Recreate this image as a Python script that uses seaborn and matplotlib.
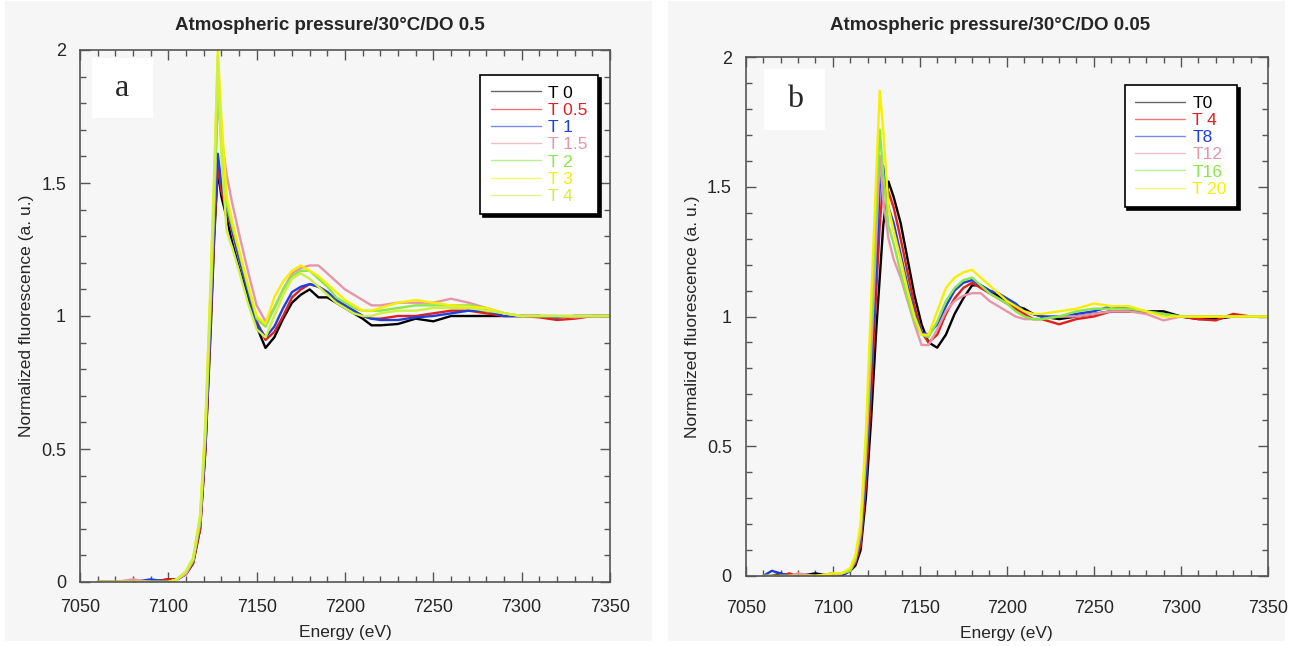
import pandas as pd
import matplotlib.pyplot as plt
import matplotlib.patches as mpatches
from matplotlib.ticker import MultipleLocator, FuncFormatter
import seaborn as sns

# panel a : DO 0.5
energy_a = [7060, 7070, 7080, 7090, 7100, 7105, 7110, 7114, 7118, 7121, 7124, 7126, 7128,
            7130, 7133, 7136, 7140, 7145, 7150, 7155, 7160, 7165, 7170, 7175, 7180, 7185,
            7190, 7195, 7200, 7205, 7210, 7215, 7220, 7230, 7240, 7250, 7260, 7270, 7280,
            7290, 7300, 7310, 7320, 7330, 7340, 7350]
labels_a = ['T 0', 'T 0.5', 'T 1', 'T 1.5', 'T 2', 'T 3', 'T 4']
colors_a = ['#000000', '#e0201c', '#1f3fe0', '#e596a8', '#88e84a', '#f6f000', '#d0f040']
t0_a = [0.00, 0.00, 0.00, 0.00, 0.01, 0.01, 0.03, 0.07, 0.20, 0.50, 0.95, 1.30, 1.55,
        1.45, 1.37, 1.28, 1.18, 1.07, 0.96, 0.88, 0.92, 0.99, 1.05, 1.08, 1.10, 1.07,
        1.07, 1.05, 1.03, 1.01, 0.99, 0.965, 0.965, 0.97, 0.99, 0.98, 1.00, 1.00, 1.00,
        1.00, 1.00, 1.00, 0.995, 1.00, 1.00, 1.00]
t05_a = [0.00, 0.00, 0.00, 0.00, 0.01, 0.01, 0.03, 0.07, 0.20, 0.50, 0.98, 1.32, 1.57,
         1.47, 1.40, 1.32, 1.22, 1.10, 0.98, 0.91, 0.94, 1.00, 1.07, 1.10, 1.12, 1.11,
         1.09, 1.06, 1.04, 1.02, 1.00, 0.99, 0.99, 1.00, 1.00, 1.01, 1.02, 1.02, 1.01,
         1.00, 1.00, 0.995, 0.985, 0.99, 1.00, 1.00]
t1_a = [0.00, 0.00, 0.00, 0.01, 0.00, 0.01, 0.03, 0.08, 0.22, 0.52, 1.00, 1.35, 1.61,
        1.50, 1.41, 1.33, 1.22, 1.09, 0.97, 0.92, 0.96, 1.03, 1.09, 1.11, 1.12, 1.11,
        1.09, 1.06, 1.04, 1.02, 1.00, 0.99, 0.985, 0.985, 0.995, 1.00, 1.01, 1.02, 1.02,
        1.00, 1.00, 1.00, 0.995, 1.00, 1.00, 1.00]
t15_a = [0.00, 0.00, 0.01, 0.00, 0.00, 0.01, 0.03, 0.08, 0.22, 0.55, 1.05, 1.42, 1.82,
         1.68, 1.53, 1.43, 1.31, 1.17, 1.04, 0.98, 1.03, 1.10, 1.16, 1.18, 1.19, 1.19,
         1.16, 1.13, 1.10, 1.08, 1.06, 1.04, 1.04, 1.05, 1.05, 1.05, 1.065, 1.05, 1.03,
         1.01, 1.00, 1.00, 1.00, 0.995, 1.00, 1.00]
t2_a = [0.00, 0.00, 0.00, 0.00, 0.00, 0.01, 0.04, 0.08, 0.23, 0.56, 1.08, 1.45, 1.85,
        1.65, 1.42, 1.34, 1.24, 1.11, 0.99, 0.96, 1.03, 1.10, 1.15, 1.17, 1.17, 1.14,
        1.11, 1.07, 1.05, 1.03, 1.02, 1.02, 1.02, 1.03, 1.04, 1.04, 1.04, 1.04, 1.03,
        1.01, 1.00, 1.00, 1.00, 1.00, 1.00, 1.00]
t3_a = [0.00, 0.00, 0.00, 0.00, 0.00, 0.01, 0.04, 0.09, 0.25, 0.60, 1.15, 1.55, 2.00,
        1.75, 1.45, 1.36, 1.25, 1.12, 1.00, 0.97, 1.07, 1.13, 1.17, 1.19, 1.17, 1.15,
        1.12, 1.09, 1.06, 1.04, 1.02, 1.02, 1.03, 1.05, 1.06, 1.05, 1.04, 1.035, 1.03,
        1.01, 1.00, 1.00, 1.00, 1.00, 1.00, 1.00]
t4_a = [0.00, 0.00, 0.00, 0.00, 0.00, 0.01, 0.04, 0.09, 0.25, 0.60, 1.12, 1.52, 1.98,
        1.60, 1.32, 1.26, 1.17, 1.05, 0.95, 0.92, 1.00, 1.08, 1.14, 1.16, 1.14, 1.11,
        1.08, 1.05, 1.03, 1.01, 1.00, 1.00, 1.01, 1.02, 1.02, 1.03, 1.03, 1.03, 1.02,
        1.01, 1.00, 1.00, 1.00, 1.00, 1.00, 1.00]

# panel b : DO 0.05
energy_b = [7060, 7065, 7070, 7075, 7080, 7090, 7100, 7105, 7110, 7113, 7116, 7119, 7122,
            7125, 7127, 7129, 7132, 7135, 7139, 7143, 7147, 7151, 7155, 7160, 7165, 7170,
            7175, 7180, 7185, 7190, 7195, 7200, 7205, 7210, 7215, 7220, 7230, 7240, 7250,
            7260, 7270, 7280, 7290, 7300, 7310, 7320, 7330, 7340, 7350]
labels_b = ['T0', 'T 4', 'T8', 'T12', 'T16', 'T 20']
colors_b = ['#000000', '#e0201c', '#1f3fe0', '#e596a8', '#88e84a', '#f6f000']
t0_b = [0.00, 0.00, 0.01, 0.00, 0.00, 0.01, 0.00, 0.01, 0.02, 0.04, 0.10, 0.30, 0.60,
        0.95, 1.15, 1.35, 1.52, 1.46, 1.36, 1.22, 1.08, 0.97, 0.90, 0.88, 0.93, 1.01,
        1.07, 1.12, 1.12, 1.10, 1.08, 1.06, 1.04, 1.03, 1.01, 1.00, 0.99, 1.00, 1.01,
        1.02, 1.02, 1.02, 1.02, 1.00, 0.99, 0.99, 1.00, 1.00, 1.00]
t4_b = [0.00, 0.00, 0.00, 0.01, 0.00, 0.00, 0.01, 0.00, 0.02, 0.05, 0.12, 0.35, 0.70,
        1.10, 1.35, 1.52, 1.48, 1.42, 1.30, 1.17, 1.04, 0.94, 0.90, 0.93, 1.01, 1.07,
        1.11, 1.13, 1.11, 1.09, 1.07, 1.05, 1.03, 1.01, 0.99, 0.99, 0.97, 0.99, 1.00,
        1.02, 1.02, 1.02, 1.01, 1.00, 0.99, 0.985, 1.01, 1.00, 1.00]
t8_b = [0.00, 0.02, 0.01, 0.00, 0.00, 0.00, 0.00, 0.00, 0.02, 0.06, 0.15, 0.40, 0.80,
        1.20, 1.50, 1.58, 1.42, 1.36, 1.24, 1.12, 1.01, 0.94, 0.93, 0.97, 1.04, 1.10,
        1.13, 1.14, 1.12, 1.10, 1.09, 1.07, 1.05, 1.02, 1.01, 1.00, 1.00, 1.01, 1.02,
        1.04, 1.03, 1.02, 1.01, 1.00, 1.00, 1.00, 1.00, 1.00, 1.00]
t12_b = [0.00, 0.00, 0.00, 0.00, 0.01, 0.00, 0.00, 0.01, 0.02, 0.06, 0.16, 0.45, 0.85,
         1.30, 1.62, 1.45, 1.30, 1.22, 1.15, 1.06, 0.97, 0.89, 0.89, 0.95, 1.02, 1.06,
         1.08, 1.09, 1.09, 1.06, 1.04, 1.02, 1.00, 0.99, 0.99, 0.99, 1.00, 1.00, 1.01,
         1.02, 1.02, 1.01, 0.985, 1.00, 1.00, 1.00, 1.00, 1.00, 1.00]
t16_b = [0.00, 0.00, 0.00, 0.00, 0.00, 0.00, 0.01, 0.01, 0.02, 0.07, 0.18, 0.50, 0.95,
         1.45, 1.72, 1.55, 1.35, 1.28, 1.17, 1.07, 0.98, 0.93, 0.92, 0.98, 1.06, 1.11,
         1.14, 1.15, 1.12, 1.09, 1.07, 1.05, 1.02, 1.00, 0.99, 0.99, 1.00, 1.02, 1.03,
         1.03, 1.03, 1.02, 1.01, 1.00, 1.00, 1.00, 1.00, 1.00, 1.00]
t20_b = [0.00, 0.00, 0.00, 0.00, 0.00, 0.00, 0.01, 0.01, 0.03, 0.08, 0.20, 0.55, 1.05,
         1.55, 1.87, 1.72, 1.42, 1.33, 1.22, 1.10, 1.00, 0.93, 0.93, 1.02, 1.11, 1.15,
         1.17, 1.18, 1.15, 1.12, 1.09, 1.06, 1.04, 1.02, 1.01, 1.01, 1.02, 1.03, 1.05,
         1.04, 1.04, 1.02, 1.00, 1.00, 1.00, 1.00, 1.00, 1.00, 1.00]

series_a = [t0_a, t05_a, t1_a, t15_a, t2_a, t3_a, t4_a]
series_b = [t0_b, t4_b, t8_b, t12_b, t16_b, t20_b]


def long_table(energy, labels, series):
    rows = []
    for lab, vals in zip(labels, series):
        for e, v in zip(energy, vals):
            rows.append({'Energy': e, 'Fluo': v, 'Serie': lab})
    return pd.DataFrame(rows)


sns.set_style("ticks")
plt.rcParams['font.family'] = ['Liberation Sans', 'DejaVu Sans']

fig = plt.figure(figsize=(12.89, 6.46), dpi=100)
W, H = 1289, 646

# grey panels behind each plot
for x0, x1 in [(5, 652), (668, 1285)]:
    fig.patches.append(mpatches.Rectangle((x0 / W, 5 / H), (x1 - x0) / W, 640 / H,
                                          transform=fig.transFigure, facecolor='#f6f6f6',
                                          edgecolor='none', zorder=-10))

ax_a = fig.add_axes([80 / W, 1 - 582 / H, 530 / W, 532 / H])
ax_b = fig.add_axes([745.7 / W, 1 - 576 / H, 522.3 / W, 519 / H])

panels = [
    (ax_a, energy_a, labels_a, colors_a, series_a, 'Atmospheric pressure/30°C/DO 0.5', 'a',
     (0.977, 0.953), (0.0226, 0.872, 0.115, 0.113), 330, 12),
    (ax_b, energy_b, labels_b, colors_b, series_b, 'Atmospheric pressure/30°C/DO 0.05', 'b',
     (0.9407, 0.946), (0.035, 0.859, 0.117, 0.118), 990, 17),
]

for ax, energy, labels, colors, series, title, letter, leg_pos, box, tx, xpad in panels:
    df = long_table(energy, labels, series)
    sns.lineplot(data=df, x='Energy', y='Fluo', hue='Serie', palette=colors,
                 hue_order=labels, linewidth=1.7, ax=ax, legend=True)
    ax.set_facecolor('#f6f6f6')
    ax.set_xlim(7050, 7350)
    ax.set_ylim(0, 2)
    ax.xaxis.set_major_locator(MultipleLocator(50))
    ax.xaxis.set_minor_locator(MultipleLocator(10))
    ax.yaxis.set_major_locator(MultipleLocator(0.5))
    ax.yaxis.set_minor_locator(MultipleLocator(0.1))
    ax.yaxis.set_major_formatter(FuncFormatter(lambda v, p: f'{v:g}'))
    ax.tick_params(which='both', direction='in', top=True, right=True, color='#555555',
                   labelsize=13)
    ax.tick_params(axis='x', pad=xpad)
    ax.tick_params(axis='y', pad=10)
    ax.tick_params(which='major', length=7, width=1)
    ax.tick_params(which='minor', length=4, width=1)
    for sp in ax.spines.values():
        sp.set_color('#555555')
        sp.set_linewidth(1.2)
    ax.set_xlabel('Energy (eV)', fontsize=12.5, labelpad=7)
    ax.set_ylabel('Normalized fluorescence (a. u.)', fontsize=12.5, labelpad=5)
    fig.text(tx / W, 1 - 25 / H, title, ha='center', va='center', fontsize=13.5,
             fontweight='bold')

    leg = ax.legend(loc='upper right', bbox_to_anchor=leg_pos, borderaxespad=0,
                    frameon=True, fancybox=False, edgecolor='black', fontsize=12.5,
                    labelcolor='linecolor', handlelength=2.9, handletextpad=0.4,
                    labelspacing=0.12, borderpad=0.6,
                    shadow={'color': 'black', 'alpha': 1.0})
    leg.get_frame().set_linewidth(1.2)
    leg.get_frame().set_facecolor('white')
    leg.get_frame().set_alpha(1)
    for ln in leg.get_lines():
        ln.set_linewidth(1.0)
        ln.set_alpha(0.6)

    bx, by, bw, bh = box
    ax.add_patch(mpatches.Rectangle((bx, by), bw, bh, transform=ax.transAxes,
                                    facecolor='white', edgecolor='none', zorder=3))
    ax.text(bx + bw / 2, by + bh / 2, letter, transform=ax.transAxes, ha='center',
            va='center', fontsize=23, family='Liberation Serif', zorder=4)

fig.savefig('out.png', dpi=100)
